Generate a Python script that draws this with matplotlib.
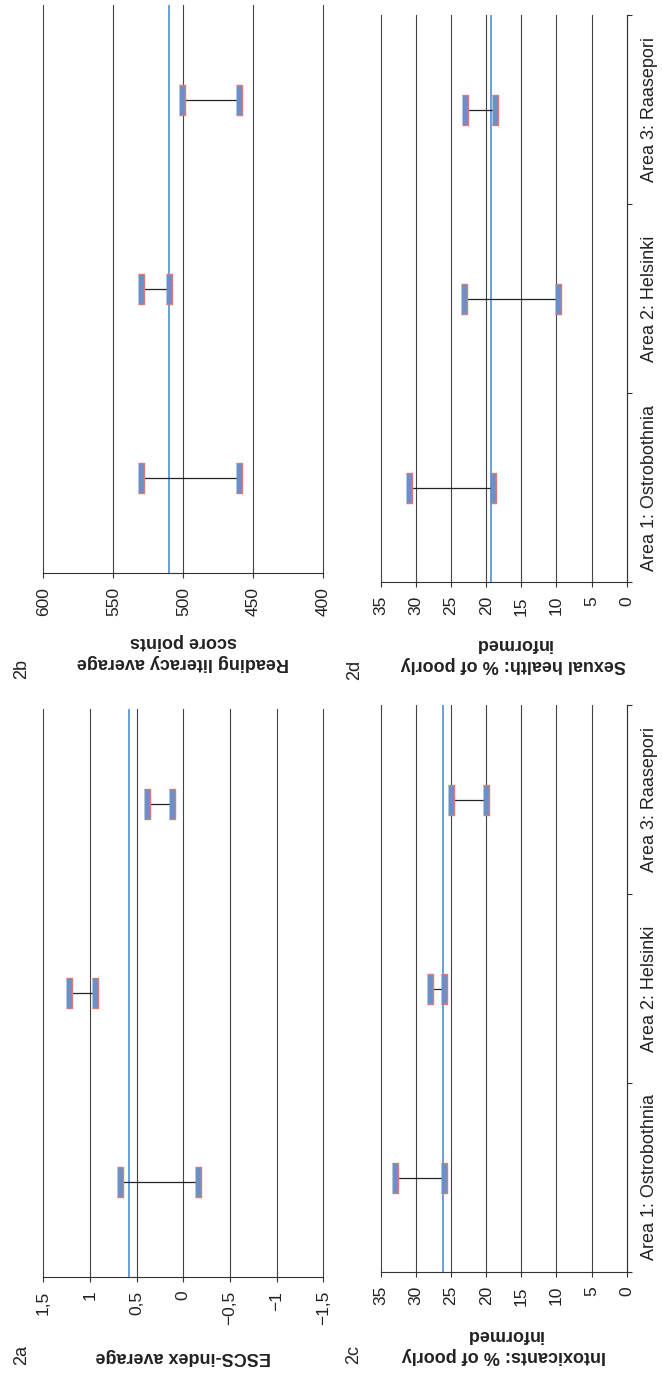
import matplotlib
matplotlib.use('Agg')
import matplotlib.pyplot as plt

plt.rcParams['font.family'] = ['Liberation Sans', 'DejaVu Sans']

areas = ['Area 1: Ostrobothnia', 'Area 2: Helsinki', 'Area 3: Raasepori']

# ESCS index: the two school groups in each area, and the national mean
escs_hi = [0.68, 1.22, 0.39]
escs_lo = [-0.16, 0.95, 0.12]
escs_mean = 0.58
escs_ticks = [1.5, 1, 0.5, 0, -0.5, -1, -1.5]

# reading literacy score points
reading_hi = [530, 530, 501]
reading_lo = [460, 510, 460]
reading_mean = 510
reading_ticks = [600, 550, 500, 450, 400]

# % poorly informed about intoxicants
intox_hi = [33, 28, 25]
intox_lo = [26, 26, 20]
intox_mean = 26.2

# % poorly informed about sexual health
sexual_hi = [31, 23.1, 23]
sexual_lo = [19, 9.8, 18.8]
sexual_mean = 19.3
pct_ticks = [35, 30, 25, 20, 15, 10, 5, 0]

W, H = 662, 1373
fig = plt.figure(figsize=(W / 100, H / 100), dpi=100)

# tall thin box used as the end marker of each range
bar = [(-1, -5.4), (1, -5.4), (1, 5.4), (-1, 5.4)]


def fmt(v):
    return ('%g' % v).replace('.', ',').replace('-', '\u2212')


def ftext(x, y, s, **kw):
    fig.text(x / W, 1 - y / H, s, **kw)


def panel(box, hi, lo, mean, ticks, show_cats):
    x0, y0, x1, y1 = box
    ax = fig.add_axes([x0 / W, 1 - y1 / H, (x1 - x0) / W, (y1 - y0) / H])
    ax.set_xlim(ticks[0], ticks[-1])
    ax.set_ylim(-0.5, len(areas) - 0.5)
    ax.set_xticks(ticks)
    ax.set_xticklabels([fmt(t) for t in ticks], rotation=90)
    ax.grid(axis='x', color='#444444', lw=0.8)
    for gl in ax.get_xgridlines():
        gl.set_clip_on(False)
    ax.set_axisbelow(True)
    ax.axvline(mean, color='#4f8fd6', lw=1.2, zorder=2)
    for i in range(len(areas)):
        ax.plot([hi[i], lo[i]], [i, i], color='#222222', lw=0.9,
                marker=bar, ms=21.5, mfc='#6b8fc7', mec='#d77b7b', mew=1.0,
                zorder=3)
    for s in ['top', 'left']:
        ax.spines[s].set_visible(False)
    ax.spines['bottom'].set_color('#333333')
    ax.tick_params(axis='x', direction='out', length=3.6, width=0.8,
                   color='#333333', pad=6.5, labelsize=12.5,
                   labelcolor='#222222')
    ax.yaxis.tick_right()
    if show_cats:
        ax.set_yticks([-0.5, 0.5, 1.5, 2.5])
        ax.set_yticklabels([])
        ax.set_yticks(range(len(areas)), minor=True)
        ax.set_yticklabels(areas, minor=True, rotation=90, va='center')
        ax.tick_params(axis='y', which='major', direction='out', length=3.6,
                       width=0.8, color='#333333')
        ax.tick_params(axis='y', which='minor', length=0, pad=10,
                       labelsize=13, labelcolor='#222222')
        ax.spines['right'].set_color('#333333')
    else:
        ax.set_yticks([])
        ax.spines['right'].set_visible(False)
    return ax


panel((43.3, 5, 323.3, 573), reading_hi, reading_lo, reading_mean,
      reading_ticks, False)
panel((43.3, 709, 323.3, 1276.7), escs_hi, escs_lo, escs_mean,
      escs_ticks, False)
panel((380.7, 15, 626.7, 582), sexual_hi, sexual_lo, sexual_mean,
      pct_ticks, True)
panel((380.7, 705, 626.7, 1272), intox_hi, intox_lo, intox_mean,
      pct_ticks, True)

lab = dict(rotation=180, ha='center', va='center', multialignment='center',
           fontsize=13, fontweight='bold', color='#222222', linespacing=1.3)
ftext(183.3, 652, 'Reading literacy average\nscore points', **lab)
ftext(183.3, 1357, 'ESCS-index average', **lab)
ftext(513, 654, 'Sexual health: % of poorly\ninformed', **lab)
ftext(503.7, 1345, 'Intoxicants: % of poorly\ninformed', **lab)

num = dict(rotation=90, ha='center', va='center', fontsize=13,
           color='#222222')
ftext(21.7, 669, '2b', **num)
ftext(21.7, 1355, '2a', **num)
ftext(355, 670, '2d', **num)
ftext(354, 1355, '2c', **num)

fig.savefig('out.png', dpi=100)
